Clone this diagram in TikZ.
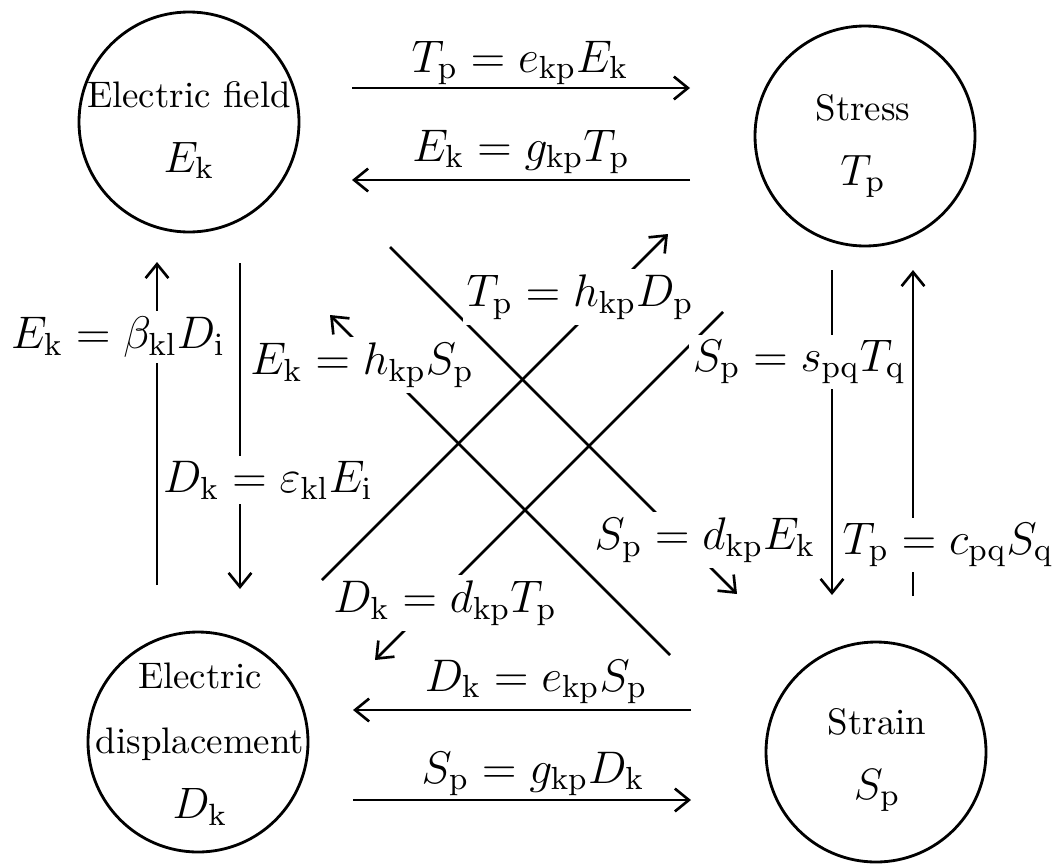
\documentclass[tikz,border=0pt]{standalone}
\usepackage{fix-cm}
\usepackage{amsmath,amssymb}
\usepackage{tikz}
\usetikzlibrary{arrows.meta}

\newcommand{\qsym}[1]{\fontsize{12.5}{18.5}\selectfont$#1$}

\tikzset{
  qty/.style={circle,draw,line width=0.8pt,minimum size=2.2cm,inner sep=0pt},
  qtxt/.style={align=center,inner sep=0pt,font=\fontsize{10.5}{18.5}\selectfont},
  rel/.style={inner xsep=1pt,inner ysep=1.5pt,font=\fontsize{13}{15}\selectfont},
  relcut/.style={rel,fill=white},
}

\begin{document}
\begin{tikzpicture}[>={Straight Barb[length=4pt,width=6.5pt]}, line width=0.75pt, line join=round]
  \useasboundingbox (0,0) rectangle (10.57,-8.66);
  % the four quantities
  \node[qty] (E) at (1.89,-1.22) {};
  \node[qty] (T) at (8.65,-1.36) {};
  \node[qty] (D) at (1.98,-7.42) {};
  \node[qty] (S) at (8.76,-7.52) {};
  \node[qtxt] (Et) at (1.89,-1.30) {Electric field\\\qsym{E_{\mathrm{k}}}};
  \node[qtxt] (Tt) at (8.63,-1.46) {Stress\\\qsym{T_{\mathrm{p}}}};
  \node[qtxt] (Dt) at (2.00,-7.44) {Electric\\displacement\\\qsym{D_{\mathrm{k}}}};
  \node[qtxt] (St) at (8.77,-7.60) {Strain\\\qsym{S_{\mathrm{p}}}};
  % arrow ends
  \coordinate (ETs) at (3.52,-0.88);
  \coordinate (ETe) at (6.90,-0.88);
  \coordinate (TEs) at (6.90,-1.80);
  \coordinate (TEe) at (3.52,-1.80);
  \coordinate (SDs) at (6.91,-7.10);
  \coordinate (SDe) at (3.53,-7.10);
  \coordinate (DSs) at (3.53,-8.00);
  \coordinate (DSe) at (6.91,-8.00);
  \coordinate (DEs) at (1.57,-5.85);
  \coordinate (DEe) at (1.57,-2.62);
  \coordinate (EDs) at (2.40,-2.63);
  \coordinate (EDe) at (2.40,-5.89);
  \coordinate (TSs) at (8.32,-2.70);
  \coordinate (TSe) at (8.32,-5.95);
  \coordinate (STs) at (9.13,-5.96);
  \coordinate (STe) at (9.13,-2.70);
  \coordinate (ESs) at (3.90,-2.47);
  \coordinate (ESe) at (7.37,-5.94);
  \coordinate (SEs) at (6.70,-6.55);
  \coordinate (SEe) at (3.30,-3.15);
  \coordinate (DTs) at (3.22,-5.80);
  \coordinate (DTe) at (6.68,-2.34);
  \coordinate (TDs) at (7.23,-3.12);
  \coordinate (TDe) at (3.75,-6.60);
  % connectors
  \draw[->] (ETs) -- (ETe);
  \draw[->] (TEs) -- (TEe);
  \draw[->] (SDs) -- (SDe);
  \draw[->] (DSs) -- (DSe);
  \draw[->] (DEs) -- (DEe);
  \draw[->] (EDs) -- (EDe);
  \draw[->] (TSs) -- (TSe);
  \draw[->] (STs) -- (STe);
  \draw[->] (ESs) -- (ESe);
  \draw[->] (SEs) -- (SEe);
  \draw[->] (DTs) -- (DTe);
  \draw[->] (TDs) -- (TDe);
  % relations
  \node[rel] (tpe) at (5.20,-0.63) {$T_{\mathrm{p}} = e_{\mathrm{kp}}E_{\mathrm{k}}$};
  \node[rel] (ekg) at (5.21,-1.52) {$E_{\mathrm{k}} = g_{\mathrm{kp}}T_{\mathrm{p}}$};
  \node[rel] (dke) at (5.36,-6.82) {$D_{\mathrm{k}} = e_{\mathrm{kp}}S_{\mathrm{p}}$};
  \node[rel] (spg) at (5.33,-7.74) {$S_{\mathrm{p}} = g_{\mathrm{kp}}D_{\mathrm{k}}$};
  \node[relcut] (ekb) at (1.18,-3.37) {$E_{\mathrm{k}} = \beta_{\mathrm{kl}}D_{\mathrm{i}}$};
  \node[relcut] (dkv) at (2.68,-4.80) {$D_{\mathrm{k}} = \varepsilon_{\mathrm{kl}}E_{\mathrm{i}}$};
  \node[relcut] (ekh) at (3.62,-3.65) {$E_{\mathrm{k}} = h_{\mathrm{kp}}S_{\mathrm{p}}$};
  \node[relcut] (tph) at (5.80,-2.97) {$T_{\mathrm{p}} = h_{\mathrm{kp}}D_{\mathrm{p}}$};
  \node[relcut] (spd) at (7.05,-5.40) {$S_{\mathrm{p}} = d_{\mathrm{kp}}E_{\mathrm{k}}$};
  \node[relcut] (dkd) at (4.45,-6.03) {$D_{\mathrm{k}} = d_{\mathrm{kp}}T_{\mathrm{p}}$};
  \node[relcut] (sps) at (7.99,-3.62) {$S_{\mathrm{p}} = s_{\mathrm{pq}}T_{\mathrm{q}}$};
  \node[relcut] (tpc) at (9.48,-5.45) {$T_{\mathrm{p}} = c_{\mathrm{pq}}S_{\mathrm{q}}$};
\end{tikzpicture}
\end{document}
